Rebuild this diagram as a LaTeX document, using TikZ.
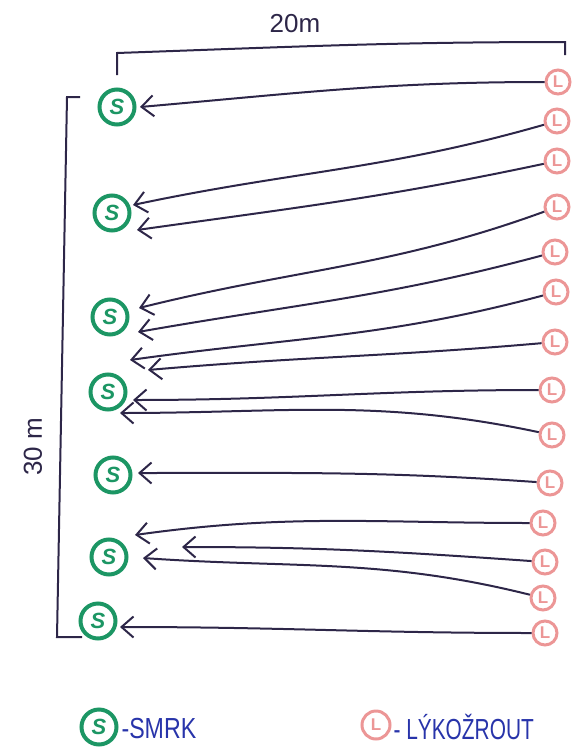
\documentclass[tikz,border=0pt]{standalone}
\usepackage{fontspec}
\setmainfont{Liberation Sans}
\usetikzlibrary{arrows.meta}
\definecolor{sgreen}{RGB}{28,150,100}
\definecolor{lpink}{RGB}{236,150,150}
\definecolor{ink}{RGB}{45,38,72}
\definecolor{legblue}{RGB}{40,52,170}
\begin{document}
\begin{tikzpicture}[x=1pt,y=1pt,
  snode/.style={circle, draw=sgreen, line width=4pt, minimum size=35pt, inner sep=0pt, text=sgreen, font=\fontsize{22}{22}\selectfont\bfseries\itshape},
  lnode/.style={circle, draw=lpink, line width=3pt, minimum size=24pt, inner sep=0pt, text=lpink, font=\fontsize{17}{17}\selectfont\bfseries},
  conn/.style={draw=ink, line width=2pt, -{Straight Barb[length=12pt,width=21pt]}},
  dimline/.style={draw=ink, line width=2pt},
  lbl/.style={text=ink, font=\fontsize{26}{26}\selectfont},
  leg/.style={text=legblue, font=\fontsize{29}{29}\selectfont, anchor=west}]
\useasboundingbox (0,0) rectangle (571,-747);
% trees (S)
\node[snode] (S1) at (117,-107) {S};
\node[snode] (S2) at (112,-213) {S};
\node[snode] (S3) at (110,-317) {S};
\node[snode] (S4) at (108,-392) {S};
\node[snode] (S5) at (113,-475) {S};
\node[snode] (S6) at (109,-557) {S};
\node[snode] (S7) at (98,-621) {S};
% beetles (L)
\node[lnode] (L1) at (558,-82) {L};
\node[lnode] (L2) at (557,-121) {L};
\node[lnode] (L3) at (557,-161) {L};
\node[lnode] (L4) at (557,-207) {L};
\node[lnode] (L5) at (555,-252) {L};
\node[lnode] (L6) at (556,-292) {L};
\node[lnode] (L7) at (555,-342) {L};
\node[lnode] (L8) at (552,-390) {L};
\node[lnode] (L9) at (552,-435) {L};
\node[lnode] (L10) at (550,-483) {L};
\node[lnode] (L11) at (543,-523) {L};
\node[lnode] (L12) at (545,-562) {L};
\node[lnode] (L13) at (543,-598) {L};
\node[lnode] (L14) at (545,-633) {L};
% arrow tips
\coordinate (t1) at (140,-107);
\coordinate (t2) at (133,-205);
\coordinate (t3) at (137,-230);
\coordinate (t4) at (139,-308);
\coordinate (t5) at (138,-332);
\coordinate (t6) at (130,-360);
\coordinate (t7) at (148,-370);
\coordinate (t8) at (133,-400);
\coordinate (t9) at (120,-413);
\coordinate (t10) at (138,-473);
\coordinate (t11) at (135,-535);
\coordinate (t12) at (182,-547);
\coordinate (t13) at (143,-558);
\coordinate (t14) at (120,-627);
% connectors
\draw[conn] (L1) to[out=180,in=5] (t1);
\draw[conn] (L2) to[out=196,in=12] (t2);
\draw[conn] (L3) to[out=192,in=8] (t3);
\draw[conn] (L4) to[out=200,in=14] (t4);
\draw[conn] (L5) to[out=195,in=10] (t5);
\draw[conn] (L6) to[out=195,in=8] (t6);
\draw[conn] (L7) to[out=185,in=5] (t7);
\draw[conn] (L8) to[out=180,in=0] (t8);
\draw[conn] (L9) to[out=168,in=0] (t9);
\draw[conn] (L10) to[out=176,in=0] (t10);
\draw[conn] (L11) to[out=180,in=8] (t11);
\draw[conn] (L12) to[out=176,in=0] (t12);
\draw[conn] (L13) to[out=166,in=-4] (t13);
\draw[conn] (L14) to[out=180,in=0] (t14);
% dimension brackets
\coordinate (w1) at (117,-75);
\coordinate (w2) at (117,-53);
\coordinate (w3) at (565,-42);
\coordinate (w4) at (565,-55);
\draw[dimline] (w1) -- (w2) to[out=2,in=180] (w3) -- (w4);
\coordinate (h1) at (80,-97);
\coordinate (h2) at (67,-97);
\coordinate (h3) at (57,-637);
\coordinate (h4) at (82,-637);
\draw[dimline] (h1) -- (h2) -- (h3) -- (h4);
\node[lbl] (wlabel) at (295,-24) {20m};
\node[lbl, rotate=90] (hlabel) at (33,-447) {30 m};
% legend
\node[snode] (legS) at (99,-727) {S};
\node[leg] (legStext) at (118,-729) {\scalebox{0.8}[1]{-SMRK}};
\node[lnode, minimum size=28pt] (legL) at (376,-725) {L};
\node[leg] (legLtext) at (390,-727) {\scalebox{0.72}[1]{- LÝKOŽROUT}};
\end{tikzpicture}
\end{document}
